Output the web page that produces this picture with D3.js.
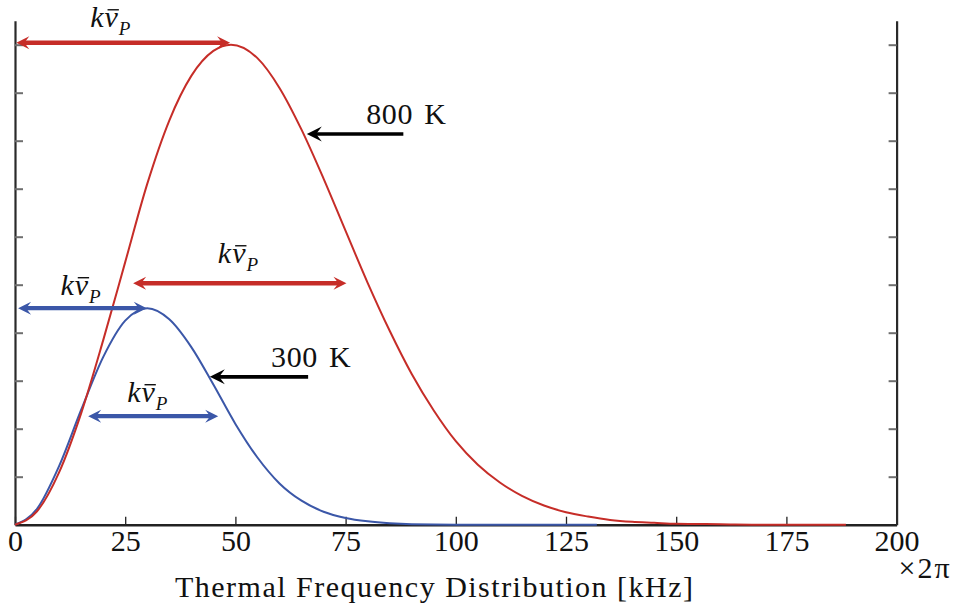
<!DOCTYPE html>
<html>
<head>
<meta charset="utf-8">
<script src="https://cdn.jsdelivr.net/npm/d3@7"></script>
<style>
  body { margin: 0; background: #fff; }
  svg text { font-family: "Liberation Serif", "DejaVu Serif", serif; fill: #111; }
</style>
</head>
<body>
<svg id="chart"></svg>
<script>
// values (y in arbitrary units, 10 = 800 K peak)
const redFreq = [0, 5, 10, 15, 20, 25, 30, 35, 40, 45, 49, 55, 60, 65, 70, 75, 80, 85, 90, 95,
                 100, 105, 110, 115, 120, 125, 130, 135, 140, 145, 150, 160, 170, 180, 188.5];
const red800 = [0, 0.28, 1.09, 2.32, 3.84, 5.47, 7.1, 8.42, 9.35, 9.87, 10.0, 9.72, 9.1, 8.23, 7.21, 6.12, 5.04, 4.04, 3.14, 2.38,
                1.74, 1.25, 0.88, 0.6, 0.4, 0.26, 0.17, 0.1, 0.06, 0.04, 0.02, 0.01, 0, 0, 0];

const blueFreq = [0, 5, 10, 15, 20, 25, 30, 35, 40, 45, 50, 55, 60, 65, 70, 75, 80, 85, 90, 100, 132];
const blue300 = [0, 0.33, 1.22, 2.39, 3.49, 4.25, 4.51, 4.28, 3.7, 2.92, 2.1, 1.4, 0.86, 0.5, 0.27, 0.14, 0.07, 0.03, 0.01, 0, 0];

const xTicks = [0, 25, 50, 75, 100, 125, 150, 175, 200];
const yTicks = [1, 2, 3, 4, 5, 6, 7, 8, 9, 10];

// kv_P arrows (start, end, level) in data units
const redArrows = [[0.3, 48.8, 10.04], [26.8, 75.2, 5.03]];
const blueArrows = [[0.7, 29.9, 4.51], [16.6, 46.1, 2.26]];
// temperature pointers: [label, tail, tip, level]
const tempArrows = [['800 K', 88.1, 66.2, 8.14], ['300 K', 66.5, 44.2, 3.08]];

const axisLabel = 'Thermal Frequency Distribution [kHz]';
const unitLabel = '\u00d72\u03c0';

const width = 956, height = 609;
const margin = { left: 15, right: 59.4, top: 20.7, bottom: 84.3 };
const RED = '#c62d28', BLUE = '#3b57a8';
const FONT = '"Liberation Serif", "DejaVu Serif", serif';

const svg = d3.select('#chart').attr('width', width).attr('height', height);

const x = d3.scaleLinear().domain([0, 200]).range([margin.left, width - margin.right]);
const y = d3.scaleLinear().domain([0, 10.5]).range([height - margin.bottom, margin.top]);

// axes
const gx = svg.append('g')
  .attr('transform', `translate(0,${y(0)})`)
  .call(d3.axisBottom(x).tickValues(xTicks).tickSizeInner(-8).tickSizeOuter(0).tickPadding(0));
gx.attr('font-family', FONT);
gx.select('.domain').attr('stroke', '#222').attr('stroke-width', 2.6);
gx.selectAll('.tick line').attr('stroke', '#222').attr('stroke-width', 1.3);
gx.selectAll('.tick text')
  .attr('y', 26.5).attr('dy', 0)
  .style('font-size', '30px').style('font-family', FONT).attr('fill', '#111');

const gl = svg.append('g')
  .attr('transform', `translate(${x(0)},0)`)
  .call(d3.axisRight(y).tickValues(yTicks).tickFormat('').tickSizeInner(8).tickSizeOuter(0));
const gr = svg.append('g')
  .attr('transform', `translate(${x(200)},0)`)
  .call(d3.axisLeft(y).tickValues(yTicks).tickFormat('').tickSizeInner(8).tickSizeOuter(0));
[gl, gr].forEach(g => {
  g.select('.domain').attr('stroke', '#2a2a2a').attr('stroke-width', 2.2);
  g.selectAll('.tick line').attr('stroke', '#6e6e6e').attr('stroke-width', 2);
});

// curves
const line = d3.line().x(d => x(d[0])).y(d => y(d[1])).curve(d3.curveMonotoneX);
svg.append('path')
  .datum(blueFreq.map((f, i) => [f, blue300[i]]))
  .attr('fill', 'none').attr('stroke', BLUE).attr('stroke-width', 2)
  .attr('d', line);
svg.append('path')
  .datum(redFreq.map((f, i) => [f, red800[i]]))
  .attr('fill', 'none').attr('stroke', RED).attr('stroke-width', 2)
  .attr('d', line);

// stealth-like arrow head with tip at (tx,ty), pointing in dir (+1 right, -1 left)
function head(tx, ty, dir, len, half) {
  return `M${tx},${ty}L${tx - dir * len},${ty - half}L${tx - dir * len * 0.62},${ty}L${tx - dir * len},${ty + half}Z`;
}

function doubleArrow(a, color, lw) {
  const x0 = x(a[0]), x1 = x(a[1]), yy = y(a[2]);
  const g = svg.append('g');
  g.append('line')
    .attr('x1', x0 + 6).attr('x2', x1 - 6).attr('y1', yy).attr('y2', yy)
    .attr('stroke', color).attr('stroke-width', lw);
  g.append('path').attr('d', head(x0, yy, -1, 13, 6.5)).attr('fill', color);
  g.append('path').attr('d', head(x1, yy, 1, 13, 6.5)).attr('fill', color);
  return g;
}

// k v-bar with subscript P; the bar is drawn as a short rule over the v
function kvpLabel(px, py) {
  const t = svg.append('text').attr('x', px).attr('y', py)
    .style('font-family', FONT)
    .style('font-size', '30px').style('font-style', 'italic');
  t.append('tspan').text('k');
  t.append('tspan').attr('dx', 1).text('v');
  t.append('tspan').attr('dx', 1).attr('dy', 8).style('font-size', '19px').text('P');
  const box = t.node().getExtentOfChar(1);
  svg.append('line')
    .attr('x1', box.x + 3).attr('x2', box.x + box.width + 1)
    .attr('y1', py - 17.5).attr('y2', py - 17.5)
    .attr('stroke', '#111').attr('stroke-width', 1.4);
}

// label offsets from the arrow middle, pixels
const kvpOffsets = [[-33, -15.5], [-22, -20], [-22, -13], [-26, -14]];

redArrows.forEach((a, i) => {
  doubleArrow(a, RED, 4.6);
  kvpLabel((x(a[0]) + x(a[1])) / 2 + kvpOffsets[i][0], y(a[2]) + kvpOffsets[i][1]);
});
blueArrows.forEach((a, i) => {
  doubleArrow(a, BLUE, 4.2);
  kvpLabel((x(a[0]) + x(a[1])) / 2 + kvpOffsets[i + 2][0], y(a[2]) + kvpOffsets[i + 2][1]);
});

tempArrows.forEach(a => {
  const xt = x(a[1]), xh = x(a[2]), yy = y(a[3]);
  svg.append('line')
    .attr('x1', xt).attr('x2', xh + 8).attr('y1', yy).attr('y2', yy)
    .attr('stroke', '#000').attr('stroke-width', 3.6);
  svg.append('path').attr('d', head(xh, yy, -1, 15, 7.5)).attr('fill', '#000');
  svg.append('text')
    .attr('x', xt + 3).attr('y', yy - 9.5)
    .attr('text-anchor', 'middle')
    .style('font-family', FONT)
    .style('font-size', '30px')
    .style('word-spacing', '3px')
    .style('letter-spacing', '0.6px')
    .text(a[0]);
});

// axis title and unit
svg.append('text')
  .attr('x', 175).attr('y', 597)
  .attr('textLength', 518).attr('lengthAdjust', 'spacing')
  .style('font-family', FONT)
  .style('font-size', '30px')
  .text(axisLabel);
svg.append('text')
  .attr('x', x(200) + 2).attr('y', 578)
  .style('font-family', FONT)
  .style('font-size', '30px')
  .style('letter-spacing', '2px')
  .text(unitLabel);
</script>
</body>
</html>
